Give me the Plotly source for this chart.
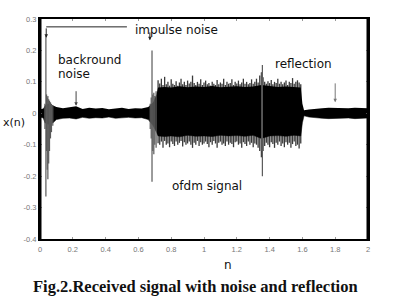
import plotly.graph_objects as go

# ---- data ----
x_ticks = [0, 0.2, 0.4, 0.6, 0.8, 1, 1.2, 1.4, 1.6, 1.8, 2]
x_tick_text = ["0", "0.2", "0.4", "0.6", "0.8", "1", "1.2", "1.4", "1.6", "1.8", "2"]
y_ticks = [-0.4, -0.3, -0.2, -0.1, 0, 0.1, 0.2, 0.3]
y_tick_text = ["-0.4", "-0.3", "-0.2", "-0.1", "0", "0.1", "0.2", "0.3"]

# dense core of the received signal (envelope)
core_n = [0.00, 0.02, 0.03, 0.05, 0.08, 0.10, 0.14, 0.18, 0.22, 0.26, 0.30, 0.34,
          0.38, 0.42, 0.46, 0.50, 0.54, 0.58, 0.62, 0.66, 0.69, 0.71, 0.72, 0.76,
          0.80, 0.85, 0.90, 0.95, 1.00, 1.05, 1.10, 1.15, 1.20, 1.25, 1.30, 1.35,
          1.40, 1.45, 1.50, 1.55, 1.59, 1.60, 1.61, 1.64, 1.68, 1.72, 1.76, 1.80,
          1.84, 1.88, 1.92, 1.96, 2.00]
core_hi = [0.012, 0.015, 0.025, 0.03, 0.025, 0.02, 0.016, 0.018, 0.022, 0.014, 0.018, 0.015,
           0.017, 0.013, 0.016, 0.018, 0.014, 0.016, 0.015, 0.02, 0.035, 0.06, 0.082, 0.084,
           0.082, 0.086, 0.083, 0.085, 0.084, 0.087, 0.083, 0.085, 0.086, 0.084, 0.085, 0.09,
           0.086, 0.084, 0.085, 0.083, 0.082, 0.03, 0.01, 0.012, 0.015, 0.016, 0.018, 0.017,
           0.018, 0.016, 0.018, 0.017, 0.016]
core_lo = [-0.012, -0.015, -0.03, -0.035, -0.03, -0.02, -0.016, -0.015, -0.018, -0.013, -0.016, -0.014,
           -0.015, -0.012, -0.016, -0.014, -0.013, -0.015, -0.014, -0.02, -0.04, -0.06, -0.072, -0.074,
           -0.072, -0.075, -0.07, -0.073, -0.072, -0.074, -0.07, -0.072, -0.071, -0.073, -0.07, -0.08,
           -0.072, -0.071, -0.073, -0.07, -0.072, -0.03, -0.008, -0.012, -0.015, -0.016, -0.017, -0.016,
           -0.017, -0.015, -0.017, -0.016, -0.015]

# OFDM fringe peaks, one per 0.01 from n = 0.72
ofdm_start = 0.72
ofdm_step = 0.01
ofdm_hi = [0.105, 0.095, 0.11, 0.09, 0.116, 0.092, 0.1, 0.088, 0.108, 0.094,
           0.09, 0.102, 0.088, 0.098, 0.11, 0.092, 0.1, 0.09, 0.104, 0.095,
           0.1, 0.12, 0.096, 0.09, 0.1, 0.094, 0.108, 0.09, 0.098, 0.104,
           0.092, 0.096, 0.088, 0.1, 0.094, 0.09, 0.106, 0.092, 0.098, 0.094,
           0.11, 0.09, 0.1, 0.094, 0.096, 0.108, 0.09, 0.1, 0.095, 0.104,
           0.092, 0.098, 0.11, 0.094, 0.1, 0.092, 0.096, 0.108, 0.094, 0.1,
           0.11, 0.098, 0.12, 0.13, 0.115, 0.1, 0.094, 0.102, 0.096, 0.106,
           0.092, 0.1, 0.096, 0.11, 0.094, 0.1, 0.092, 0.098, 0.104, 0.09,
           0.1, 0.096, 0.112, 0.094, 0.1, 0.105, 0.098, 0.092]
ofdm_lo = [-0.095, -0.1, -0.09, -0.11, -0.088, -0.1, -0.096, -0.108, -0.09, -0.098,
           -0.104, -0.09, -0.1, -0.094, -0.088, -0.106, -0.092, -0.1, -0.096, -0.09,
           -0.1, -0.11, -0.094, -0.1, -0.088, -0.104, -0.092, -0.1, -0.096, -0.09,
           -0.098, -0.108, -0.092, -0.1, -0.088, -0.096, -0.11, -0.094, -0.09, -0.1,
           -0.096, -0.104, -0.09, -0.1, -0.094, -0.098, -0.108, -0.092, -0.09, -0.1,
           -0.096, -0.11, -0.092, -0.098, -0.104, -0.09, -0.1, -0.094, -0.108, -0.096,
           -0.1, -0.11, -0.12, -0.14, -0.12, -0.104, -0.094, -0.1, -0.108, -0.092,
           -0.098, -0.11, -0.094, -0.1, -0.09, -0.104, -0.096, -0.108, -0.092, -0.1,
           -0.094, -0.11, -0.098, -0.09, -0.104, -0.1, -0.112, -0.096]

# impulses and their ringing
imp_n = [0.030, 0.036, 0.040, 0.044, 0.048, 0.053, 0.058, 0.064, 0.070, 0.078,
         0.672, 0.678, 0.683, 0.688, 0.694, 0.700, 0.708, 1.352, 1.356]
imp_hi = [0.03, 0.245, 0.06, 0.05, 0.055, 0.045, 0.04, 0.035, 0.03, 0.025,
          0.03, 0.05, 0.20, 0.06, 0.065, 0.055, 0.07, 0.13, 0.154]
imp_lo = [-0.05, -0.265, -0.12, -0.18, -0.21, -0.16, -0.12, -0.08, -0.06, -0.04,
          -0.05, -0.08, -0.218, -0.12, -0.13, -0.1, -0.11, -0.12, -0.20]

# ---- build ----
def segments(ns, his, los):
    xs, ys = [], []
    for n, h, l in zip(ns, his, los):
        xs += [n, n, None]
        ys += [l, h, None]
    return xs, ys

ofdm_n = [round(ofdm_start + ofdm_step * i, 3) for i in range(len(ofdm_hi))]

fig = go.Figure()
fx, fy = segments(ofdm_n, ofdm_hi, ofdm_lo)
fig.add_trace(go.Scatter(x=fx, y=fy, mode="lines", line=dict(color="#3a3a3a", width=1.3),
                         hoverinfo="skip", showlegend=False))
fig.add_trace(go.Scatter(x=core_n, y=core_hi, mode="lines", line=dict(width=0, color="black"),
                         hoverinfo="skip", showlegend=False))
fig.add_trace(go.Scatter(x=core_n, y=core_lo, mode="lines", line=dict(width=0.5, color="black"),
                         fill="tonexty", fillcolor="black", hoverinfo="skip", showlegend=False))
ix, iy = segments(imp_n, imp_hi, imp_lo)
fig.add_trace(go.Scatter(x=ix, y=iy, mode="lines", line=dict(color="#5a5a5a", width=1.2),
                         hoverinfo="skip", showlegend=False))

txt = dict(family="DejaVu Sans", size=12, color="#111")
annotations = [
    dict(x=0.567, y=0.265, text="impulse noise", showarrow=False, xanchor="left", yanchor="middle", font=txt),
    dict(x=0.098, y=0.17, text="backround", showarrow=False, xanchor="left", yanchor="middle", font=txt),
    dict(x=0.098, y=0.125, text="noise", showarrow=False, xanchor="left", yanchor="middle", font=txt),
    dict(x=1.421, y=0.157, text="reflection", showarrow=False, xanchor="left", yanchor="middle", font=txt),
    dict(x=0.793, y=-0.231, text="ofdm signal", showarrow=False, xanchor="left", yanchor="middle", font=txt),
    # arrows
    dict(x=0.038, y=0.24, ax=0.038, ay=0.275, axref="x", ayref="y", text="", showarrow=True,
         arrowhead=2, arrowsize=0.7, arrowwidth=1, arrowcolor="#222"),
    dict(x=0.67, y=0.232, ax=0.67, ay=0.262, axref="x", ayref="y", text="", showarrow=True,
         arrowhead=2, arrowsize=0.7, arrowwidth=1, arrowcolor="#222"),
    dict(x=0.22, y=0.024, ax=0.22, ay=0.075, axref="x", ayref="y", text="", showarrow=True,
         arrowhead=2, arrowsize=0.7, arrowwidth=1, arrowcolor="#444"),
    dict(x=1.8, y=0.035, ax=1.8, ay=0.1, axref="x", ayref="y", text="", showarrow=True,
         arrowhead=2, arrowsize=0.7, arrowwidth=1, arrowcolor="#777"),
    # axis labels and caption
    dict(x=-0.119, y=0.53, xref="paper", yref="paper", text="x(n)", showarrow=False,
         xanchor="left", yanchor="middle", font=dict(family="DejaVu Sans", size=11, color="#111")),
    dict(x=0.573, y=-0.118, xref="paper", yref="paper", text="n", showarrow=False,
         xanchor="center", yanchor="middle", font=txt),
    dict(x=0.4726, y=-0.218, xref="paper", yref="paper",
         text="<b>Fig.2.Received signal with noise and reflection</b>", showarrow=False,
         xanchor="center", yanchor="middle",
         font=dict(family="Liberation Serif", size=16.5, color="#111")),
]

shapes = [
    dict(type="line", x0=0.038, x1=0.53, y0=0.275, y1=0.275, xref="x", yref="y",
         line=dict(color="#222", width=1)),
    dict(type="line", x0=0, x1=0, y0=0, y1=1, xref="paper", yref="paper", line=dict(color="black", width=3)),
    dict(type="line", x0=1, x1=1, y0=0, y1=1, xref="paper", yref="paper", line=dict(color="black", width=3)),
]

axis_common = dict(showgrid=False, zeroline=False, showline=True, linecolor="black", linewidth=2,
                   mirror="ticks", ticks="inside", ticklen=2, tickcolor="#999",
                   tickfont=dict(family="Liberation Sans", size=7.5, color="#777"))

fig.update_layout(
    width=393, height=302,
    margin=dict(l=40, r=25, t=19, b=63),
    paper_bgcolor="white", plot_bgcolor="white",
    xaxis=dict(range=[0, 2], tickvals=x_ticks, ticktext=x_tick_text, ticklabelstandoff=2, **axis_common),
    yaxis=dict(range=[-0.4, 0.3], tickvals=y_ticks, ticktext=y_tick_text, **axis_common),
    annotations=annotations, shapes=shapes, showlegend=False,
)

fig.write_html("out.html", config={"displayModeBar": False})
